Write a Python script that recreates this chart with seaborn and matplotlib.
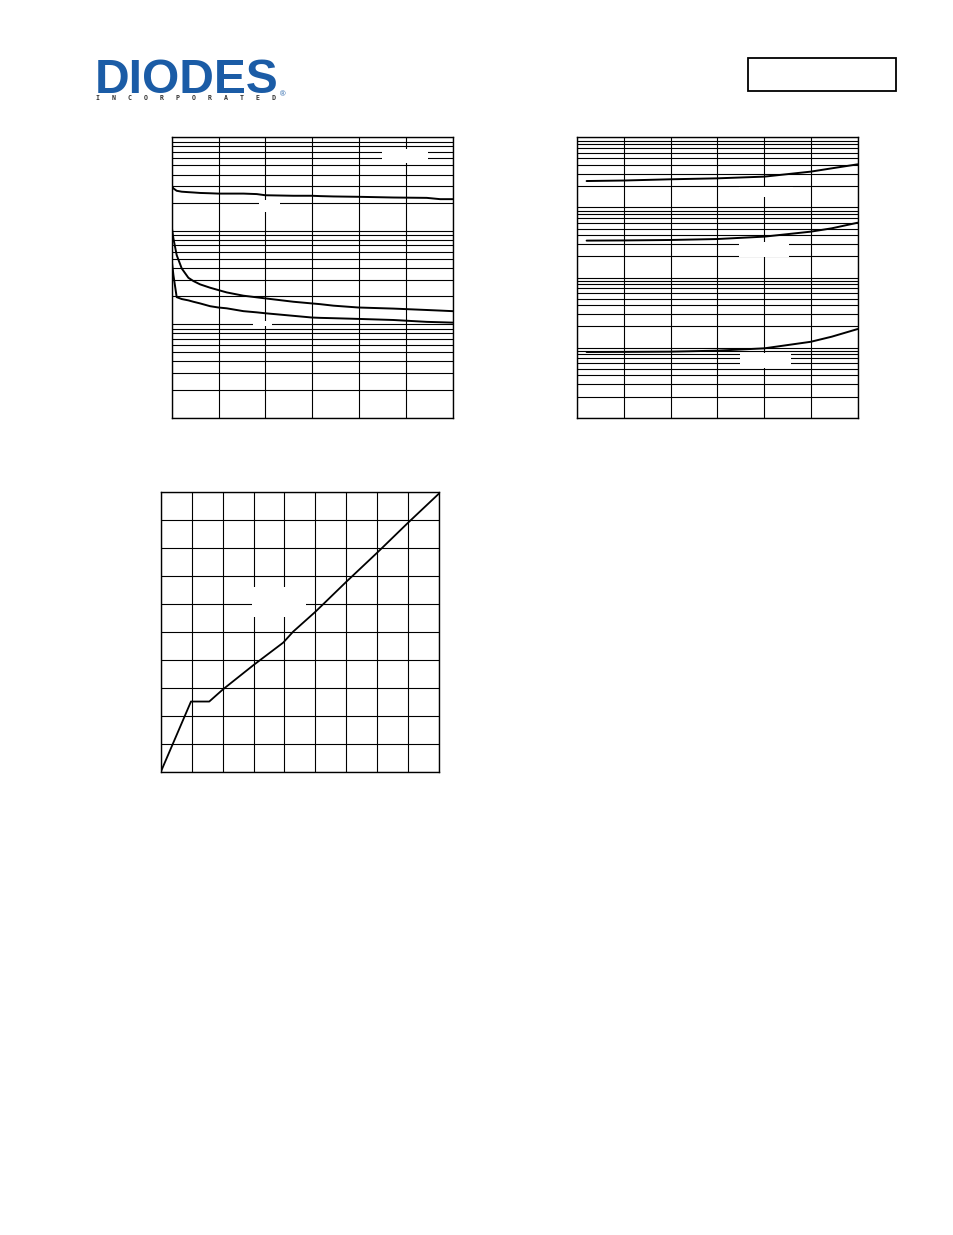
import matplotlib
matplotlib.use("Agg")
import matplotlib.pyplot as plt
import matplotlib.ticker as mticker
from matplotlib.patches import Rectangle
import seaborn as sns
import pandas as pd

# chart 1 : capacitance vs voltage (log y)
cap_v = [0, 0.18, 0.53, 1.07, 1.78, 2.31, 3.03, 4.09, 4.98, 5.87, 7.65, 9.08, 10.0,
         12.99, 14.95, 15.84, 17.26, 19.93, 23.67, 27.23, 28.65, 30]
ciss = [305, 284, 268, 262, 259, 257, 254, 252, 250, 250, 250, 247, 240,
        237, 237, 235, 233, 231, 227, 225, 218, 218]
coss = [110, 82.8, 54.9, 39.5, 31.4, 29.0, 26.7, 24.6, 23.2, 21.9, 20.2, 19.4, 18.9,
        17.4, 16.7, 16.4, 15.8, 15.1, 14.7, 14.2, 14.0, 13.8]
crss = [48.5, 33.6, 19.5, 18.6, 18.0, 17.4, 16.7, 15.6, 15.1, 14.8, 13.8, 13.4, 13.1,
        12.3, 11.8, 11.7, 11.6, 11.4, 11.1, 10.6, 10.5, 10.4]

# chart 2 : three curves vs temperature (log y)
temp = [5.0, 25, 49.8, 74.9, 100.1, 124.9, 136.1, 150]
curve_a = [238, 242, 252, 260, 275, 324, 361, 412]
curve_b = [33.6, 33.8, 34.3, 35.4, 38.3, 45.1, 50.3, 60.5]
curve_c = [0.865, 0.868, 0.875, 0.904, 0.976, 1.21, 1.43, 1.84]

# chart 3 : gate charge
qg = [0, 0.98, 1.57, 2.02, 3.0, 3.96, 4.28, 5.0, 6.0, 7.0, 8.0, 9.0]
vgs = [0, 2.52, 2.52, 2.96, 3.82, 4.62, 5.01, 5.72, 6.79, 7.83, 8.9, 9.94]

LOGO_BLUE = "#1b5ca6"

sns.set_style("white")
plt.rcParams["font.family"] = ["Liberation Sans", "DejaVu Sans"]

fig = plt.figure(figsize=(9.54, 12.35), dpi=100)


def style_axes(ax):
    ax.grid(True, which="both", color="black", linewidth=0.8)
    ax.set_axisbelow(True)
    for s in ax.spines.values():
        s.set_color("black")
        s.set_linewidth(1.0)
    ax.tick_params(which="both", length=0, labelbottom=False, labelleft=False)
    ax.set_xlabel("")
    ax.set_ylabel("")


def mask(ax, x0, y0, x1, y1):
    ax.add_patch(Rectangle((x0, y0), x1 - x0, y1 - y0, transform=ax.transAxes,
                           facecolor="white", edgecolor="none", zorder=1.5))


# --- chart 1
ax1 = fig.add_axes([0.18, 0.6618, 0.2946, 0.2270])
df1 = pd.DataFrame({"v": cap_v * 3, "c": ciss + coss + crss,
                    "s": ["Ciss"] * len(cap_v) + ["Coss"] * len(cap_v) + ["Crss"] * len(cap_v)})
sns.lineplot(data=df1, x="v", y="c", units="s", estimator=None, color="black",
             linewidth=1.4, ax=ax1, zorder=3)
ax1.set_yscale("log")
ax1.set_xlim(0, 30)
ax1.set_ylim(1, 1000)
ax1.set_xticks([0, 5, 10, 15, 20, 25, 30])
ax1.yaxis.set_minor_locator(mticker.LogLocator(base=10, subs=range(2, 10)))
style_axes(ax1)
mask(ax1, 0.747, 0.910, 0.913, 0.959)
mask(ax1, 0.312, 0.7325, 0.385, 0.776)
mask(ax1, 0.288, 0.326, 0.356, 0.345)

# --- chart 2
ax2 = fig.add_axes([0.6051, 0.6618, 0.2939, 0.2270])
df2 = pd.DataFrame({"t": temp * 3, "y": curve_a + curve_b + curve_c,
                    "s": ["a"] * len(temp) + ["b"] * len(temp) + ["c"] * len(temp)})
sns.lineplot(data=df2, x="t", y="y", units="s", estimator=None, color="black",
             linewidth=1.4, ax=ax2, zorder=3)
ax2.set_yscale("log")
ax2.set_xlim(0, 150)
ax2.set_ylim(0.1, 1000)
ax2.set_xticks([0, 25, 50, 75, 100, 125, 150])
ax2.yaxis.set_minor_locator(mticker.LogLocator(base=10, subs=range(2, 10)))
style_axes(ax2)
mask(ax2, 0.5767, 0.788, 0.768, 0.824)
mask(ax2, 0.5767, 0.574, 0.755, 0.6255)
mask(ax2, 0.580, 0.176, 0.761, 0.232)

# --- chart 3
ax3 = fig.add_axes([0.1684, 0.3747, 0.2920, 0.2272])
sns.lineplot(x=qg, y=vgs, color="black", linewidth=1.3, ax=ax3, zorder=3)
ax3.set_xlim(0, 9)
ax3.set_ylim(0, 10)
ax3.set_xticks(range(0, 10))
ax3.set_yticks(range(0, 11))
style_axes(ax3)
mask(ax3, 0.3266, 0.5545, 0.5215, 0.6614)

# --- header: logo and part number box
fig.text(95 / 954, 1 - 93 / 1235, "DIODES", fontsize=34.5, fontweight="heavy",
         color=LOGO_BLUE, ha="left", va="baseline")
fig.add_artist(plt.Line2D([100 / 954, 215 / 954], [1 - 75 / 1235, 1 - 75 / 1235],
                          color="white", linewidth=1.3))
fig.text(96 / 954, 1 - 100.5 / 1235, "I   N   C   O   R   P   O   R   A   T   E   D",
         fontsize=4.75, fontweight="bold", family="DejaVu Sans Mono",
         color="#333333", ha="left", va="baseline")
fig.text(283 / 954, 1 - 96 / 1235, "®", fontsize=5.5, color=LOGO_BLUE,
         ha="center", va="baseline")
fig.add_artist(Rectangle((748 / 954, 1 - 91 / 1235), 148 / 954, 33 / 1235,
                         transform=fig.transFigure, facecolor="none",
                         edgecolor="black", linewidth=1.3))

fig.savefig("out.png", dpi=100, facecolor="white")
